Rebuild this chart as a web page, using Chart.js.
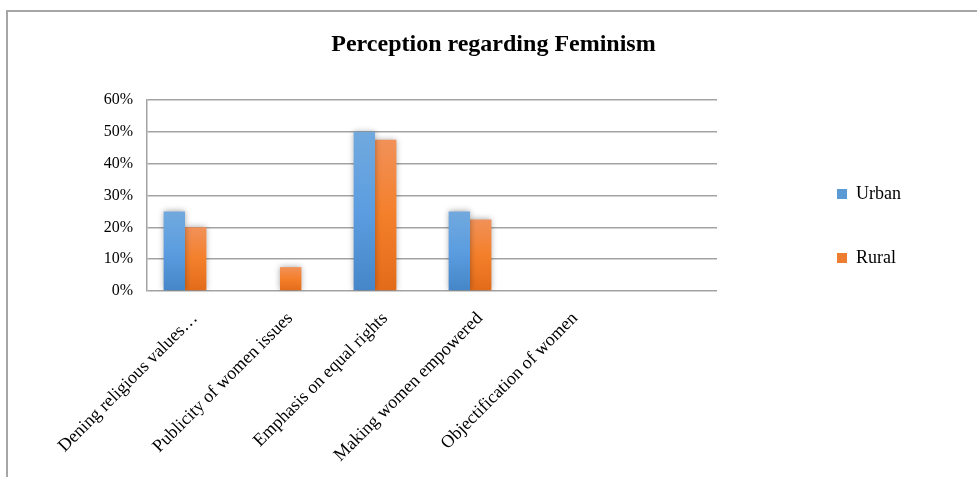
<!DOCTYPE html>
<html>
<head>
<meta charset="utf-8">
<script src="https://cdn.jsdelivr.net/npm/chart.js@4/dist/chart.umd.min.js"></script>
<style>
  html, body { margin: 0; padding: 0; background: #fff; }
  #wrap { position: relative; width: 977px; height: 477px; overflow: hidden; }
  #frame { position: absolute; left: 6px; top: 10px; width: 1000px; height: 500px;
           border-left: 2px solid #a6a6a6; border-top: 2px solid #a6a6a6; box-sizing: border-box; }
  canvas { position: absolute; left: 0; top: 0; }
</style>
</head>
<body>
<div id="wrap">
  <div id="frame"></div>
  <canvas id="chart" width="977" height="477"></canvas>
</div>
<script>
// Survey answers: share of respondents per statement
const categories = [
  'Dening religious values…',
  'Publicity of women issues',
  'Emphasis on equal rights',
  'Making women empowered',
  'Objectification of women'
];
const urban = [0.25, 0, 0.50, 0.25, 0];
const rural = [0.20, 0.075, 0.475, 0.225, 0];
const yTicks = [0, 0.1, 0.2, 0.3, 0.4, 0.5, 0.6];

const serif = '"Liberation Serif", "Times New Roman", serif';

function barGradient(stops, fallback) {
  return (ctx) => {
    const chart = ctx.chart;
    const area = chart.chartArea;
    if (!area || !ctx.parsed) return fallback;
    const yScale = chart.scales.y;
    const top = yScale.getPixelForValue(ctx.parsed.y);
    const bottom = yScale.getPixelForValue(0);
    if (!isFinite(top) || Math.abs(bottom - top) < 1) return fallback;
    const g = chart.ctx.createLinearGradient(0, top, 0, bottom);
    g.addColorStop(0, stops[0]);
    g.addColorStop(0.5, stops[1]);
    g.addColorStop(1, stops[2]);
    return g;
  };
}

// soft shadow behind the bars
const barShadow = {
  id: 'barShadow',
  beforeDatasetsDraw(chart) {
    const c = chart.ctx;
    c.save();
    c.shadowColor = 'rgba(0,0,0,0.35)';
    c.shadowBlur = 6;
    c.shadowOffsetX = 0;
    c.shadowOffsetY = 0;
  },
  afterDatasetsDraw(chart) {
    chart.ctx.restore();
  }
};

const toPoints = (arr) => arr.map((v, i) => ({ x: i, y: v }));

new Chart(document.getElementById('chart'), {
  type: 'bar',
  data: {
    datasets: [
      {
        label: 'Urban',
        data: toPoints(urban),
        backgroundColor: barGradient(['#71a9de', '#5b9de0', '#4486c7'], '#5b9bd5'),
        borderWidth: 0,
        categoryPercentage: 0.45,
        barPercentage: 1
      },
      {
        label: 'Rural',
        data: toPoints(rural),
        backgroundColor: barGradient(['#f19159', '#f47f2a', '#e26b1a'], '#ed7d31'),
        borderWidth: 0,
        categoryPercentage: 0.45,
        barPercentage: 1
      }
    ]
  },
  plugins: [barShadow],
  options: {
    responsive: false,
    animation: false,
    devicePixelRatio: 1,
    layout: { padding: { left: 76, right: 66, top: 0, bottom: 0 } },
    plugins: {
      title: {
        display: true,
        text: 'Perception regarding Feminism',
        color: '#000',
        font: { family: serif, size: 24, weight: 'bold', lineHeight: 1.2 },
        padding: { top: 30, bottom: 41.2 }
      },
      legend: {
        position: 'right',
        align: 'start',
        title: { display: true, text: '', padding: { top: 131, bottom: 0 }, font: { size: 8, lineHeight: 1 } },
        labels: {
          color: '#000',
          font: { family: serif, size: 18 },
          boxWidth: 10,
          boxHeight: 10,
          padding: 46,
          generateLabels(chart) {
            return chart.data.datasets.map((ds, i) => ({
              text: ds.label,
              fillStyle: i === 0 ? '#5b9bd5' : '#ed7d31',
              strokeStyle: 'rgba(0,0,0,0)',
              fontColor: '#000',
              lineWidth: 0,
              datasetIndex: i,
              hidden: false
            }));
          }
        }
      },
      tooltip: { enabled: false }
    },
    scales: {
      x: {
        type: 'linear',
        offset: false,
        min: -0.4,
        max: 5.6,
        grid: { display: false },
        border: { display: false },
        afterBuildTicks(scale) {
          scale.ticks = categories.map((_, i) => ({ value: i }));
        },
        afterFit(scale) { scale.height = 186; },
        ticks: {
          autoSkip: false,
          minRotation: 45,
          maxRotation: 45,
          color: '#000',
          font: { family: serif, size: 18 },
          padding: 9,
          labelOffset: 10,
          callback: (v) => categories[v] ?? ''
        }
      },
      y: {
        min: 0,
        max: 0.6,
        afterBuildTicks(scale) {
          scale.ticks = yTicks.map((v) => ({ value: v }));
        },
        afterFit(scale) { scale.width = 71; },
        grid: { color: '#a3a3a3', lineWidth: 1.5, drawTicks: false },
        border: { display: true, color: '#a3a3a3', width: 1.5 },
        ticks: {
          color: '#000',
          font: { family: serif, size: 16 },
          padding: 14,
          callback: (v) => Math.round(v * 100) + '%'
        }
      },
      gap: {
        type: 'linear',
        position: 'right',
        display: true,
        grid: { display: false },
        border: { display: false },
        ticks: { display: false },
        afterFit(scale) { scale.width = 74; }
      }
    }
  }
});
</script>
</body>
</html>
